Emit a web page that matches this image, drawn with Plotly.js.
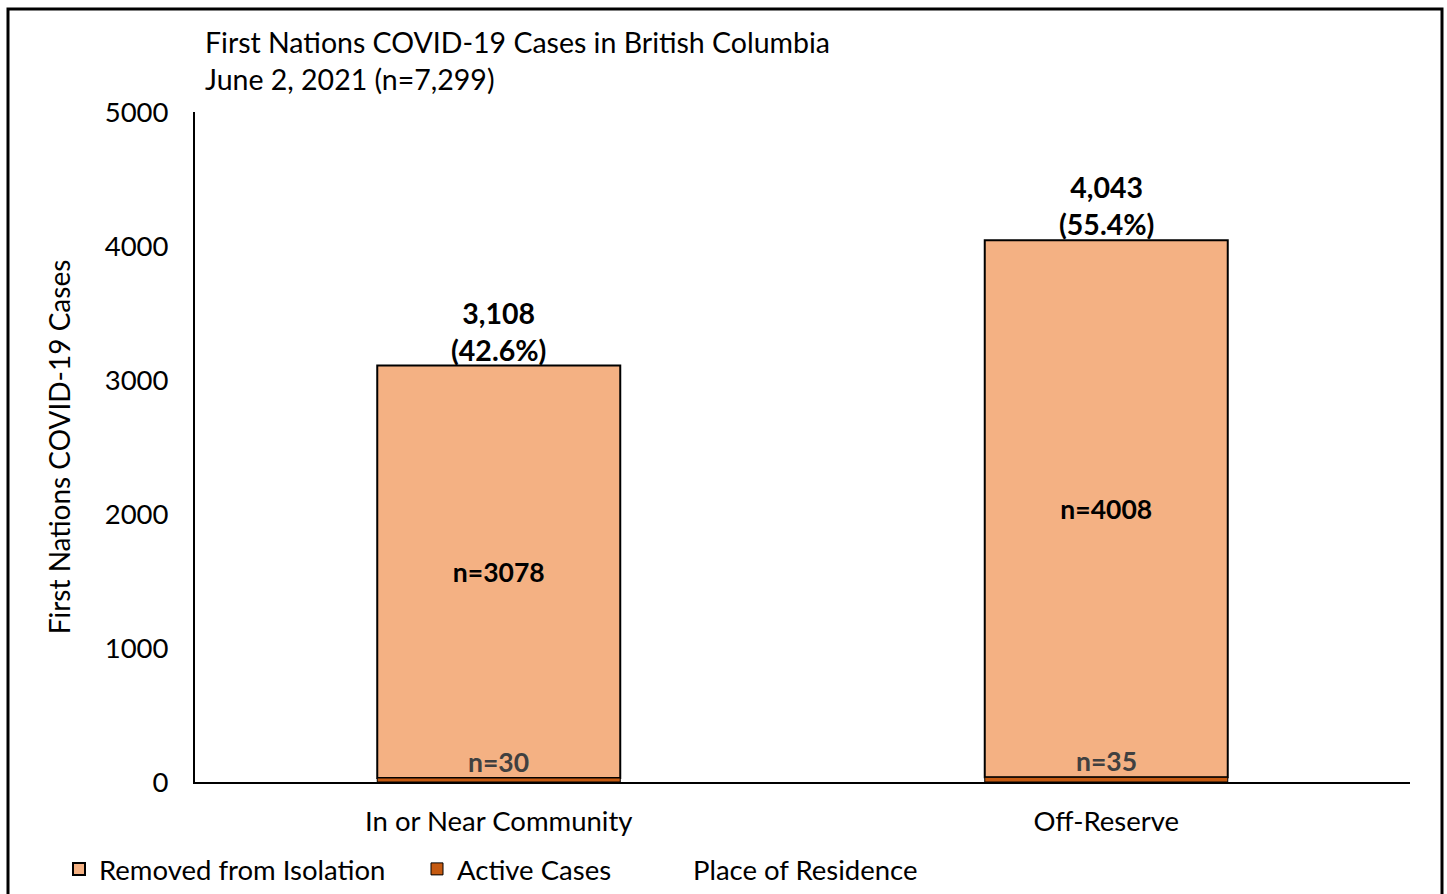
<!DOCTYPE html>
<html>
<head>
<meta charset="utf-8">
<script src="https://cdn.plot.ly/plotly-3.0.1.min.js"></script>
<style>html,body{margin:0;padding:0;background:#fff;}#chart{width:1447px;height:894px;}</style>
</head>
<body>
<div id="chart"></div>
<script>
const categories = ["In or Near Community", "Off-Reserve"];
const activeCases = [30, 35];
const removedFromIsolation = [3078, 4008];
const totalLabels = ["3,108", "4,043"];
const pctLabels = ["42.6%", "55.4%"];
const yTicks = [0, 1000, 2000, 3000, 4000, 5000];

const FONT = "Lato, 'Noto Sans', sans-serif";
const FS = 27.5;

const totals = categories.map((c, i) => activeCases[i] + removedFromIsolation[i]);

const traceRemoved = {
  type: "bar",
  name: "Removed from Isolation",
  x: categories,
  y: removedFromIsolation,
  base: activeCases,
  marker: {color: "#F4B183", line: {color: "#000", width: 2}},
  text: removedFromIsolation.map(v => "<b>n=" + v + "</b>"),
  textposition: "inside",
  insidetextanchor: "middle",
  textfont: {family: FONT, size: 26.5, color: "#000"},
  hoverinfo: "skip",
  width: 0.4
};
const traceActive = {
  type: "bar",
  name: "Active Cases",
  x: categories,
  y: activeCases,
  marker: {color: "#C55A11", line: {color: "#000", width: 1}},
  hoverinfo: "skip",
  width: 0.4
};

const annotations = [];
categories.forEach((c, i) => {
  annotations.push({
    x: c, y: totals[i], xref: "x", yref: "y",
    text: "<b>" + totalLabels[i] + "<br>(" + pctLabels[i] + ")</b>",
    showarrow: false, yanchor: "bottom", yshift: -3,
    font: {family: FONT, size: 28.5, color: "#000"}
  });
  annotations.push({
    x: c, y: activeCases[i], xref: "x", yref: "y",
    text: "<b>n=" + activeCases[i] + "</b>",
    showarrow: false, yanchor: "bottom", yshift: -2,
    font: {family: FONT, size: 26.5, color: "#404040"}
  });
});
annotations.push({
  xref: "paper", yref: "paper", x: (203 - 195) / 1215, y: (782 - 61) / 670,
  xanchor: "left", yanchor: "middle", align: "left",
  text: "First Nations COVID-19 Cases in British Columbia<br>June 2, 2021 (n=7,299)",
  showarrow: false, font: {family: FONT, size: 28.5, color: "#000"}
});
annotations.push({
  xref: "paper", yref: "paper", x: (691 - 195) / 1215, y: (782 - 869) / 670,
  xanchor: "left", yanchor: "middle",
  text: "Place of Residence",
  showarrow: false, font: {family: FONT, size: FS, color: "#000"}
});

const layout = {
  width: 1447, height: 894,
  margin: {l: 195, r: 37, t: 112, b: 112, autoexpand: false},
  paper_bgcolor: "#fff", plot_bgcolor: "#fff",
  barmode: "overlay",
  font: {family: FONT, size: FS, color: "#000"},
  showlegend: true,
  legend: {
    orientation: "h", x: (59 - 195) / 1215, y: (782 - 869) / 670,
    xanchor: "left", yanchor: "middle",
    traceorder: "normal",
    entrywidth: 313, entrywidthmode: "pixels",
    font: {family: FONT, size: FS, color: "#000"},
    bgcolor: "rgba(0,0,0,0)"
  },
  xaxis: {
    showline: true, linecolor: "#000", linewidth: 2,
    ticks: "", ticklabelstandoff: 14,
    tickfont: {family: FONT, size: FS, color: "#000"},
    showgrid: false, zeroline: false, fixedrange: true
  },
  yaxis: {
    range: [0, 5000], tickvals: yTicks, ticktext: yTicks.map(String),
    showline: true, linecolor: "#000", linewidth: 2,
    ticks: "", ticklabelstandoff: 19,
    tickfont: {family: FONT, size: FS, color: "#000"},
    showgrid: false, zeroline: false, fixedrange: true,
    title: {text: "First Nations COVID-19 Cases", font: {family: FONT, size: 28, color: "#000"}, standoff: 26}
  },
  annotations: annotations,
  shapes: [{
    type: "rect", xref: "paper", yref: "paper",
    x0: (8 - 195) / 1215, x1: (1442 - 195) / 1215,
    y0: (782 - 910) / 670, y1: (782 - 9) / 670,
    line: {color: "#000", width: 3}, fillcolor: "rgba(0,0,0,0)", layer: "below"
  }]
};

Plotly.newPlot("chart", [traceRemoved, traceActive], layout, {displayModeBar: false, staticPlot: true});
</script>
</body>
</html>
